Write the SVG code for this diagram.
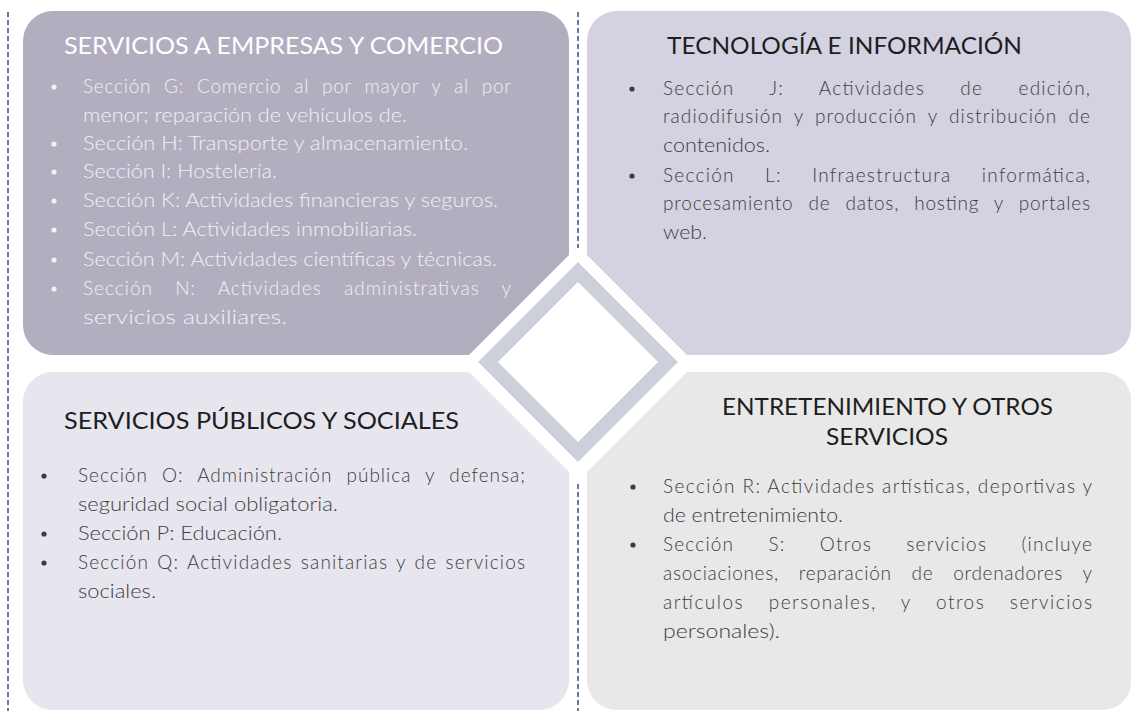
<svg xmlns="http://www.w3.org/2000/svg" width="1131" height="711" viewBox="0 0 1131 711">
<style>
.body{font-family:Lato,"Liberation Sans",sans-serif;font-size:19px;font-weight:300;fill:#3d3d3d}
.light{fill:#f1f0f5}
.title{font-family:Lato,"Liberation Sans",sans-serif;font-size:23px;font-weight:400;fill:#1e1e1e}
.wtitle{fill:#ffffff}
.dash{stroke:#34507a;stroke-width:1.5;stroke-dasharray:5 3;fill:none}
.bul{fill:#3d3d3d}
.wbul{fill:#f1f0f5}
</style>
<rect width="1131" height="711" fill="#ffffff"/>
<g id="guides">
<line class="dash" x1="8" y1="12" x2="8" y2="711"/>
<line class="dash" x1="578" y1="12" x2="578" y2="248"/>
<line class="dash" x1="578" y1="484" x2="578" y2="711"/>
</g>
<g id="connectors"></g>
<g id="node-empresas">
<path d="M53,11 H539 A30,30 0 0 1 569,41 V255 L469,355 H53 A30,30 0 0 1 23,325 V41 A30,30 0 0 1 53,11 Z" fill="#b2aebf"/>
<text class="title wtitle" x="64" y="54" textLength="439" lengthAdjust="spacingAndGlyphs">SERVICIOS A EMPRESAS Y COMERCIO</text>
<g class="wbul">
<circle cx="54" cy="87" r="2.6"/><circle cx="54" cy="144" r="2.6"/><circle cx="54" cy="172" r="2.6"/><circle cx="54" cy="201" r="2.6"/><circle cx="54" cy="230" r="2.6"/><circle cx="54" cy="260" r="2.6"/><circle cx="54" cy="289" r="2.6"/>
</g>
<text class="body light" x="83" y="93" textLength="428" lengthAdjust="spacing" style="word-spacing:7px">Sección G: Comercio al por mayor y al por</text>
<text class="body light" x="83" y="122" textLength="324" lengthAdjust="spacingAndGlyphs">menor; reparación de vehículos de.</text>
<text class="body light" x="83" y="150" textLength="385" lengthAdjust="spacingAndGlyphs">Sección H: Transporte y almacenamiento.</text>
<text class="body light" x="83" y="178" textLength="194" lengthAdjust="spacingAndGlyphs">Sección I: Hostelería.</text>
<text class="body light" x="83" y="207" textLength="415" lengthAdjust="spacingAndGlyphs">Sección K: Actividades financieras y seguros.</text>
<text class="body light" x="83" y="236" textLength="334" lengthAdjust="spacingAndGlyphs">Sección L: Actividades inmobiliarias.</text>
<text class="body light" x="83" y="266" textLength="414" lengthAdjust="spacingAndGlyphs">Sección M: Actividades científicas y técnicas.</text>
<text class="body light" x="83" y="295" textLength="428" lengthAdjust="spacing" style="word-spacing:16px">Sección N: Actividades administrativas y</text>
<text class="body light" x="83" y="324" textLength="204" lengthAdjust="spacingAndGlyphs">servicios auxiliares.</text>
</g>
<g id="node-tecnologia">
<path d="M617,11 H1103 A28,28 0 0 1 1131,39 V327 A28,28 0 0 1 1103,355 H687 L587,255 V41 A30,30 0 0 1 617,11 Z" fill="#d4d2e1"/>
<text class="title" x="667" y="54" textLength="355" lengthAdjust="spacingAndGlyphs">TECNOLOGÍA E INFORMACIÓN</text>
<g class="bul">
<circle cx="632" cy="89" r="2.6"/><circle cx="632" cy="176" r="2.6"/>
</g>
<text class="body" x="663" y="95" textLength="427" lengthAdjust="spacing" style="word-spacing:29px">Sección J: Actividades de edición,</text>
<text class="body" x="663" y="123" textLength="427" lengthAdjust="spacing" style="word-spacing:5px">radiodifusión y producción y distribución de</text>
<text class="body" x="663" y="152" textLength="107" lengthAdjust="spacingAndGlyphs">contenidos.</text>
<text class="body" x="663" y="182" textLength="427" lengthAdjust="spacing" style="word-spacing:24px">Sección L: Infraestructura informática,</text>
<text class="body" x="663" y="210" textLength="427" lengthAdjust="spacing" style="word-spacing:9px">procesamiento de datos, hosting y portales</text>
<text class="body" x="663" y="239" textLength="44" lengthAdjust="spacingAndGlyphs">web.</text>
</g>
<g id="node-publicos">
<path d="M53,372 H469 L569,472 V680 A30,30 0 0 1 539,710 H53 A30,30 0 0 1 23,680 V402 A30,30 0 0 1 53,372 Z" fill="#e7e6ef"/>
<text class="title" x="64" y="429" textLength="395" lengthAdjust="spacingAndGlyphs">SERVICIOS PÚBLICOS Y SOCIALES</text>
<g class="bul">
<circle cx="44" cy="476" r="2.6"/><circle cx="44" cy="534" r="2.6"/><circle cx="44" cy="563" r="2.6"/>
</g>
<text class="body" x="78" y="482" textLength="447" lengthAdjust="spacing" style="word-spacing:8px">Sección O: Administración pública y defensa;</text>
<text class="body" x="78" y="511" textLength="260" lengthAdjust="spacingAndGlyphs">seguridad social obligatoria.</text>
<text class="body" x="78" y="540" textLength="204" lengthAdjust="spacingAndGlyphs">Sección P: Educación.</text>
<text class="body" x="78" y="569" textLength="447" lengthAdjust="spacing" style="word-spacing:2px">Sección Q: Actividades sanitarias y de servicios</text>
<text class="body" x="78" y="598" textLength="78" lengthAdjust="spacingAndGlyphs">sociales.</text>
</g>
<g id="node-entretenimiento">
<path d="M687,372 H1103 A28,28 0 0 1 1131,400 V682 A28,28 0 0 1 1103,710 H617 A30,30 0 0 1 587,680 V472 Z" fill="#e8e8e9"/>
<text class="title" x="722" y="415" textLength="331" lengthAdjust="spacingAndGlyphs">ENTRETENIMIENTO Y OTROS</text>
<text class="title" x="826" y="445" textLength="122" lengthAdjust="spacingAndGlyphs">SERVICIOS</text>
<g class="bul">
<circle cx="633" cy="487" r="2.6"/><circle cx="633" cy="545" r="2.6"/>
</g>
<text class="body" x="663" y="493" textLength="429" lengthAdjust="spacing">Sección R: Actividades artísticas, deportivas y</text>
<text class="body" x="663" y="522" textLength="180" lengthAdjust="spacingAndGlyphs">de entretenimiento.</text>
<text class="body" x="663" y="551" textLength="429" lengthAdjust="spacing" style="word-spacing:28px">Sección S: Otros servicios (incluye</text>
<text class="body" x="663" y="580" textLength="429" lengthAdjust="spacing" style="word-spacing:14px">asociaciones, reparación de ordenadores y</text>
<text class="body" x="663" y="609" textLength="429" lengthAdjust="spacing" style="word-spacing:18px">artículos personales, y otros servicios</text>
<text class="body" x="663" y="638" textLength="117" lengthAdjust="spacingAndGlyphs">personales).</text>
</g>
<g id="node-center">
<polygon points="578,272 668,362 578,452 488,362" fill="#ffffff" stroke="#cbd0da" stroke-width="14" stroke-linejoin="miter"/>
</g>
</svg>
